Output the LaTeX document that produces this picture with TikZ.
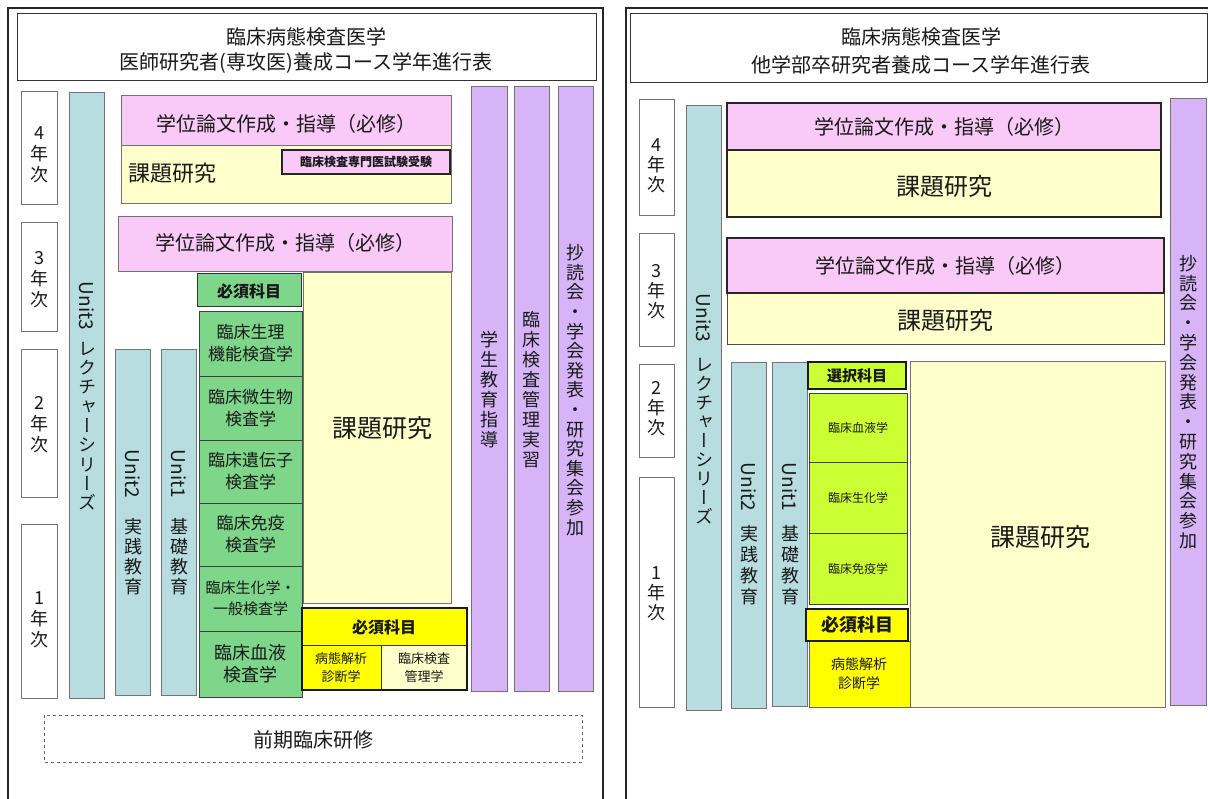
\documentclass[tikz,border=0pt]{standalone}
\usepackage{fontspec}
\setmainfont{Noto Sans CJK JP}
\newfontfamily\vfont[RawFeature=+vert]{Noto Sans CJK JP}
\definecolor{pinkc}{HTML}{F9C9F7}
\definecolor{creamc}{HTML}{FFFFCC}
\definecolor{tealc}{HTML}{B7DDE0}
\definecolor{greenc}{HTML}{7ED68A}
\definecolor{purpc}{HTML}{D6B4F7}
\definecolor{limec}{HTML}{CCFF33}
\definecolor{yelc}{HTML}{FFFF00}
\newcommand\fsl[2]{\fontsize{#1}{#2}\selectfont}
\tikzset{
  rbox/.style={draw=black!55, line width=0.8pt},
  dbox/.style={draw=black!85, line width=1.6pt},
  tbox/.style={draw=black!90, line width=2.4pt},
  lbl/.style={inner sep=0pt, align=center, text=black!90},
  vlbl/.style={inner sep=0pt, align=center, text=black!90, anchor=north},
  rlbl/.style={inner sep=0pt, text=black!90, rotate=-90},
}
\begin{document}
\begin{tikzpicture}[x=1pt,y=-1pt]
\useasboundingbox (0,0) rectangle (1208,799);
\fill[white] (0,0) rectangle (1208,799);
% ================= LEFT PANEL =================
\draw[line width=1.3pt, black!85] (8,805) -- (8,8) -- (603,8) -- (603,805);
\draw[draw=black!80, line width=1pt] (17,14) rectangle (596,81);
\node[lbl, font=\fsl{20}{24}] (lt1) at (306,37) {臨床病態検査医学};
\node[lbl, font=\fsl{20}{24}] (lt2) at (306,63) {医師研究者(専攻医)養成コース学年進行表};
% year boxes
\draw[rbox, fill=white] (21,91) rectangle (57,204);
\draw[rbox, fill=white] (21,222) rectangle (57,331);
\draw[rbox, fill=white] (21,349) rectangle (57,497);
\draw[rbox, fill=white] (21,524) rectangle (57,698);
\node[lbl, font=\fsl{18}{21}] (ly4) at (39,155) {4\\年\\次};
\node[lbl, font=\fsl{18}{21}] (ly3) at (39,280) {3\\年\\次};
\node[lbl, font=\fsl{18}{21}] (ly2) at (39,425) {2\\年\\次};
\node[lbl, font=\fsl{18}{21}] (ly1) at (39,620) {1\\年\\次};
% teal bars
\draw[rbox, fill=tealc] (69,92) rectangle (104,698);
\draw[rbox, fill=tealc] (115,349) rectangle (150,695);
\draw[rbox, fill=tealc] (161,349) rectangle (196,695);
\node[rlbl, font=\fsl{19}{19}] (lu3a) at (87,306) {Unit3};
\node[vlbl, font=\vfont\fsl{18}{19.3}] (lu3b) at (87,342) {レ\\ク\\チ\\ャ\\ー\\シ\\リ\\ー\\ズ};
\node[rlbl, font=\fsl{19}{19}] (lu2a) at (133,474) {Unit2};
\node[vlbl, font=\vfont\fsl{18}{20}] (lu2b) at (133,518) {実\\践\\教\\育};
\node[rlbl, font=\fsl{19}{19}] (lu1a) at (179,474) {Unit1};
\node[vlbl, font=\vfont\fsl{18}{20}] (lu1b) at (179,518) {基\\礎\\教\\育};
% year 4 blocks
\draw[rbox, fill=pinkc] (121,95) rectangle (451,145);
\node[lbl, font=\fsl{20}{24}] (lp4) at (286,124) {学位論文作成・指導（必修）};
\draw[rbox, fill=creamc] (121,145) rectangle (451,203);
\node[lbl, font=\fsl{22}{24}] (lk4) at (172,173) {課題研究};
\draw[dbox, fill=pinkc] (282,150) rectangle (450,174);
\node[lbl, font=\bfseries\fsl{12}{14}] (lsen) at (366,162) {臨床検査専門医試験受験};
% year 3 pink
\draw[rbox, fill=pinkc] (118,216) rectangle (452,271);
\node[lbl, font=\fsl{20}{24}] (lp3) at (285,243) {学位論文作成・指導（必修）};
% big research block
\draw[rbox, fill=creamc] (303,272) rectangle (451,603);
\node[lbl, font=\fsl{25}{28}] (lkb) at (382,428) {課題研究};
% green subjects
\draw[draw=black!80, line width=1pt, fill=greenc] (197,274) rectangle (301,307);
\node[lbl, font=\bfseries\fsl{16}{18}] (lgh) at (249,291) {必須科目};
\draw[draw=black!75, line width=0.9pt, fill=greenc] (199,311) rectangle (302,376);
\draw[draw=black!75, line width=0.9pt, fill=greenc] (199,376) rectangle (302,440);
\draw[draw=black!75, line width=0.9pt, fill=greenc] (199,440) rectangle (302,503);
\draw[draw=black!75, line width=0.9pt, fill=greenc] (199,503) rectangle (302,566);
\draw[draw=black!75, line width=0.9pt, fill=greenc] (199,566) rectangle (302,631);
\draw[draw=black!75, line width=0.9pt, fill=greenc] (199,631) rectangle (302,697);
\node[lbl, font=\fsl{17}{22}] (lg1) at (250.5,343.5) {臨床生理\\機能検査学};
\node[lbl, font=\fsl{17}{22}] (lg2) at (250.5,408) {臨床微生物\\検査学};
\node[lbl, font=\fsl{17}{22}] (lg3) at (250.5,471.5) {臨床遺伝子\\検査学};
\node[lbl, font=\fsl{17}{22}] (lg4) at (250.5,534.5) {臨床免疫\\検査学};
\node[lbl, font=\fsl{15}{21}] (lg5) at (250.5,598.5) {臨床生化学・\\一般検査学};
\node[lbl, font=\fsl{18}{22}] (lg6) at (250.5,664) {臨床血液\\検査学};
% yellow required group
\fill[yelc] (302,608) rectangle (467,645);
\fill[yelc] (302,645) rectangle (381,690);
\fill[creamc] (381,645) rectangle (467,690);
\draw[black!80, line width=0.8pt] (302,645) -- (467,645);
\draw[black!80, line width=0.8pt] (381,645) -- (381,690);
\draw[tbox] (302,608) rectangle (467,690);
\node[lbl, font=\bfseries\fsl{16}{18}] (lyh) at (384,627) {必須科目};
\node[lbl, font=\fsl{13}{18}] (ly1s) at (341,668) {病態解析\\診断学};
\node[lbl, font=\fsl{13}{18}] (ly2s) at (424,668) {臨床検査\\管理学};
% purple bars
\draw[rbox, fill=purpc] (471,86) rectangle (507,691);
\draw[rbox, fill=purpc] (514,86) rectangle (549,691);
\draw[rbox, fill=purpc] (558,86) rectangle (593,691);
\node[lbl, font=\vfont\fsl{18}{20}] (lv1) at (489,390) {学\\生\\教\\育\\指\\導};
\node[lbl, font=\vfont\fsl{18}{20}] (lv2) at (531.5,390) {臨\\床\\検\\査\\管\\理\\実\\習};
\node[lbl, font=\vfont\fsl{18}{19.6}] (lv3) at (575.5,390) {抄\\読\\会\\・\\学\\会\\発\\表\\・\\研\\究\\集\\会\\参\\加};
% dashed
\draw[dashed, black!60, line width=0.8pt] (44,715) rectangle (582,762);
\node[lbl, font=\fsl{20}{24}] (lpre) at (313,740) {前期臨床研修};
% ================= RIGHT PANEL =================
\draw[line width=1.3pt, black!85] (626,805) -- (626,8) -- (1212,8);
\draw[draw=black!80, line width=1pt] (630,14) rectangle (1207,83);
\node[lbl, font=\fsl{20}{24}] (rt1) at (921,37) {臨床病態検査医学};
\node[lbl, font=\fsl{20}{24}] (rt2) at (921,65) {他学部卒研究者養成コース学年進行表};
% year boxes
\draw[rbox, fill=white] (639,99) rectangle (674,215);
\draw[rbox, fill=white] (639,233) rectangle (674,346);
\draw[rbox, fill=white] (639,364) rectangle (674,457);
\draw[rbox, fill=white] (639,477) rectangle (674,707);
\node[lbl, font=\fsl{18}{20}] (ry4) at (656.5,166) {4\\年\\次};
\node[lbl, font=\fsl{18}{20}] (ry3) at (656.5,292) {3\\年\\次};
\node[lbl, font=\fsl{18}{20}] (ry2) at (656.5,409) {2\\年\\次};
\node[lbl, font=\fsl{18}{20}] (ry1) at (656.5,594) {1\\年\\次};
% teal bars
\draw[rbox, fill=tealc] (686,105) rectangle (721,710);
\draw[rbox, fill=tealc] (731,362) rectangle (766,708);
\draw[rbox, fill=tealc] (772,362) rectangle (807,706);
\node[rlbl, font=\fsl{19}{19}] (ru3a) at (704,318) {Unit3};
\node[vlbl, font=\vfont\fsl{18}{19}] (ru3b) at (704,358) {レ\\ク\\チ\\ャ\\ー\\シ\\リ\\ー\\ズ};
\node[rlbl, font=\fsl{19}{19}] (ru2a) at (749,487) {Unit2};
\node[vlbl, font=\vfont\fsl{18}{21}] (ru2b) at (749,525) {実\\践\\教\\育};
\node[rlbl, font=\fsl{19}{19}] (ru1a) at (790,487) {Unit1};
\node[vlbl, font=\vfont\fsl{18}{21}] (ru1b) at (790,525) {基\\礎\\教\\育};
% year 4
\draw[draw=black!85, line width=1.2pt, fill=creamc] (727,150) rectangle (1161,217);
\draw[dbox, fill=pinkc] (727,103) rectangle (1161,150);
\node[lbl, font=\fsl{20}{24}] (rp4) at (944,127) {学位論文作成・指導（必修）};
\node[lbl, font=\fsl{24}{26}] (rk4) at (944,186) {課題研究};
% year 3
\draw[draw=black!70, line width=1pt, fill=creamc] (727,293) rectangle (1164,345);
\draw[dbox, fill=pinkc] (727,238) rectangle (1164,293);
\node[lbl, font=\fsl{20}{24}] (rp3) at (945,266) {学位論文作成・指導（必修）};
\node[lbl, font=\fsl{24}{26}] (rk3) at (945,320) {課題研究};
% big research
\draw[rbox, fill=creamc] (910,361) rectangle (1165,707);
\node[lbl, font=\fsl{25}{28}] (rkb) at (1040,537) {課題研究};
% electives
\draw[draw=black!75, line width=0.9pt, fill=limec] (809,393) rectangle (907,462);
\draw[draw=black!75, line width=0.9pt, fill=limec] (809,462) rectangle (907,533);
\draw[draw=black!75, line width=0.9pt, fill=limec] (809,533) rectangle (907,604);
\draw[tbox, fill=limec] (808,362) rectangle (906,389);
\node[lbl, font=\bfseries\fsl{15}{18}] (rsh) at (857,376) {選択科目};
\node[lbl, font=\fsl{12}{14}] (re1) at (858,427.5) {臨床血液学};
\node[lbl, font=\fsl{12}{14}] (re2) at (858,497.5) {臨床生化学};
\node[lbl, font=\fsl{12}{14}] (re3) at (858,568.5) {臨床免疫学};
% required
\draw[draw=black!60, line width=0.8pt, fill=yelc] (809,641) rectangle (910,707);
\draw[tbox, fill=yelc] (806,609) rectangle (908,641);
\node[lbl, font=\bfseries\fsl{18}{20}] (rrh) at (857,625) {必須科目};
\node[lbl, font=\fsl{14}{19}] (rr1) at (859,674) {病態解析\\診断学};
% purple
\draw[rbox, fill=purpc] (1170,98) rectangle (1206,705);
\node[lbl, font=\vfont\fsl{18}{19.8}] (rv1) at (1188,402) {抄\\読\\会\\・\\学\\会\\発\\表\\・\\研\\究\\集\\会\\参\\加};
\end{tikzpicture}
\end{document}
